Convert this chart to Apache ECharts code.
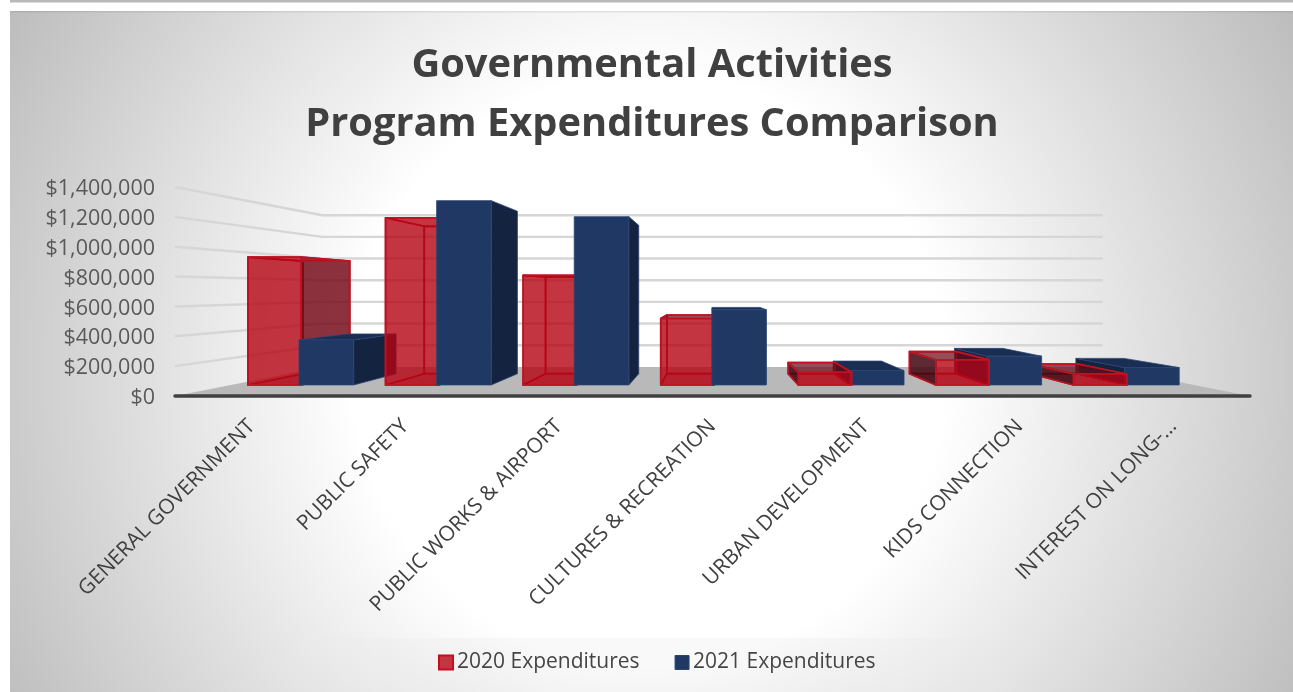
<!DOCTYPE html>
<html>
<head>
<meta charset="utf-8">
<style>
  html, body { margin: 0; padding: 0; background: #fff; }
  #chart { width: 1293px; height: 692px; }
</style>
<script src="https://cdn.jsdelivr.net/npm/echarts@6/dist/echarts.min.js"></script>
</head>
<body>
<div id="chart"></div>
<script>
const categories = ['GENERAL GOVERNMENT', 'PUBLIC SAFETY', 'PUBLIC WORKS & AIRPORT', 'CULTURES & RECREATION', 'URBAN DEVELOPMENT', 'KIDS CONNECTION', 'INTEREST ON LONG-…'];
const expenditures2020 = [955000, 1250000, 820000, 497000, 95000, 187000, 82000];
const expenditures2021 = [337000, 1378000, 1258000, 562000, 107000, 215000, 130000];
const tickValues = [0, 200000, 400000, 600000, 800000, 1000000, 1200000, 1400000];

// Perspective of the 3D box: every point is pulled towards one vanishing point.
const VANISH_CATEGORY = 3;
const VANISH_VALUE = 711000;
const DEPTH_WALL = 0.726;
const DEPTH_BAR_FRONT = 0.896;
const DEPTH_BAR_REAR = 0.79;

function project(api, category, bandOffset, value, depth) {
  const band = api.size([1, 0])[0];
  const p = api.coord([category, value]);
  const v = api.coord([VANISH_CATEGORY, VANISH_VALUE]);
  return [
    v[0] + (p[0] + bandOffset * band - v[0]) * depth,
    v[1] + (p[1] - v[1]) * depth
  ];
}

function face(points, style, z2) {
  return { type: 'polygon', shape: { points }, style, z2, silent: true };
}

const redLook = {
  edge: { stroke: '#bc1424', lineWidth: 1.7, lineJoin: 'round' },
  front: 'rgba(181,2,19,0.8)',
  right: 'rgba(115,5,20,0.82)',
  left: 'rgba(65,5,15,0.85)',
  top: 'rgba(105,10,22,0.72)',
  bottom: 'rgba(170,0,15,0.16)'
};
const blueLook = {
  edge: { stroke: '#2b4573', lineWidth: 0.8, lineJoin: 'round' },
  front: '#1f3864',
  right: '#142340',
  left: '#142340',
  top: '#1a2d52',
  bottom: null
};

function boxRenderer(look, from, to, isRed) {
  return function (params, api) {
    const cat = api.value(0);
    const val = api.value(1);
    const c = (off, v, d) => project(api, cat, off, v, d);
    const fl = c(from, 0, DEPTH_BAR_FRONT), fr = c(to, 0, DEPTH_BAR_FRONT);
    const rl = c(from, 0, DEPTH_BAR_REAR), rr = c(to, 0, DEPTH_BAR_REAR);
    const tfl = c(from, val, DEPTH_BAR_FRONT), tfr = c(to, val, DEPTH_BAR_FRONT);
    const trl = c(from, val, DEPTH_BAR_REAR), trr = c(to, val, DEPTH_BAR_REAR);
    const vx = api.coord([VANISH_CATEGORY, 0])[0];
    const rightShows = fr[0] < vx;
    const leftShows = fl[0] > vx;
    const topShows = val < VANISH_VALUE;

    // Outer categories are painted first so the nearer-centre boxes overlap them.
    const rank = 3 - Math.abs(cat - 3);
    const within = cat <= 3 ? (isRed ? 0 : 1) : (isRed ? 1 : 0);
    const z = 100 + rank * 100 + within * 10;
    const s = (fill) => Object.assign({ fill: fill || 'none' }, look.edge);
    const kids = [];

    if (isRed) {
      kids.push(face([rl, rr, trr, trl], s(null), z));
      kids.push(face([fl, fr, rr, rl], s(look.bottom), z + 1));
    }
    if (isRed || leftShows) {
      kids.push(face([fl, rl, trl, tfl], s(leftShows ? look.left : null), z + 2));
    }
    if (isRed || rightShows) {
      kids.push(face([fr, rr, trr, tfr], s(rightShows ? look.right : null), z + 3));
    }
    if (isRed || topShows) {
      kids.push(face([tfl, tfr, trr, trl], s(topShows ? look.top : null), z + 4));
    }
    kids.push(face([fl, fr, tfr, tfl], s(look.front), z + 5));
    return { type: 'group', children: kids };
  };
}

function renderWalls(params, api) {
  const val = api.value(1);
  const leftFront = project(api, 0, -0.5, val, 1);
  const leftBack = project(api, 0, -0.5, val, DEPTH_WALL);
  const rightFront = project(api, 6, 0.5, val, 1);
  const rightBack = project(api, 6, 0.5, val, DEPTH_WALL);
  if (val === 0) {
    return face([leftFront, leftBack, rightBack, rightFront], { fill: '#b9b9b9' }, 1);
  }
  return {
    type: 'polyline',
    shape: { points: [leftFront, leftBack, rightBack] },
    style: { fill: 'none', stroke: '#d6d6d6', lineWidth: 2.4 },
    z2: 2,
    silent: true
  };
}

const pairs = (values) => values.map((v, i) => [categories[i], v]);
const money = (v) => '{v|$' + v.toLocaleString('en-US') + '}';
const FONT = '"Open Sans", sans-serif';

const chart = echarts.init(document.getElementById('chart'), null, { renderer: 'canvas' });
chart.setOption({
  animation: false,
  graphic: [
    { type: 'rect', silent: true, z: -10, shape: { x: 10, y: 0, width: 1283, height: 2.5 }, style: { fill: '#b9b9b9' } },
    {
      type: 'rect', silent: true, z: -10,
      shape: { x: 10, y: 11, width: 1283, height: 681 },
      style: {
        fill: {
          type: 'radial', global: true, x: 650, y: 370, r: 740,
          colorStops: [
            { offset: 0, color: '#ffffff' },
            { offset: 0.4, color: '#ffffff' },
            { offset: 1, color: '#bcbcbc' }
          ]
        }
      }
    },
    { type: 'rect', silent: true, z: -9, shape: { x: 10, y: 11, width: 1283, height: 1.5 }, style: { fill: 'rgba(0,0,0,0.08)' } },
    {
      // faint backing strip behind the legend
      type: 'rect', silent: true, z: -9,
      shape: { x: 300, y: 638, width: 700, height: 54 },
      style: {
        fill: {
          type: 'linear', x: 0, y: 0, x2: 1, y2: 0,
          colorStops: [
            { offset: 0, color: 'rgba(0,0,0,0)' },
            { offset: 0.25, color: 'rgba(0,0,0,0.025)' },
            { offset: 0.75, color: 'rgba(0,0,0,0.025)' },
            { offset: 1, color: 'rgba(0,0,0,0)' }
          ]
        }
      }
    }
  ],
  title: {
    text: 'Governmental Activities\nProgram Expenditures Comparison',
    left: 647,
    top: 31,
    textAlign: 'center',
    textStyle: { fontFamily: FONT, fontWeight: 700, fontSize: 39.8, lineHeight: 59, color: '#404040' }
  },
  legend: {
    left: 433,
    top: 647,
    itemWidth: 14,
    itemHeight: 14,
    itemGap: 35,
    icon: 'rect',
    selectedMode: false,
    textStyle: { fontFamily: FONT, fontSize: 21, color: '#454545', padding: [0, 0, 0, -1] },
    data: [
      { name: '2020 Expenditures', itemStyle: { color: '#c43542', borderColor: '#c20e20', borderWidth: 2 } },
      { name: '2021 Expenditures', itemStyle: { color: '#1f3864', borderColor: '#2b4573', borderWidth: 1 } }
    ]
  },
  grid: { left: 175, right: 43, top: 187, bottom: 296 },
  xAxis: {
    type: 'category',
    data: categories,
    z: 6,
    axisTick: { show: false },
    axisLine: { lineStyle: { color: '#404040', width: 3.5 } },
    axisLabel: {
      rotate: 45,
      interval: 0,
      margin: 27,
      fontFamily: FONT,
      fontSize: 21,
      color: '#404040'
    }
  },
  yAxis: {
    type: 'value',
    min: 0,
    max: 1400000,
    interval: 200000,
    axisLine: { show: false },
    axisTick: { show: false },
    splitLine: { show: false },
    axisLabel: {
      margin: 20,
      formatter: money,
      rich: { v: { fontFamily: FONT, fontSize: 21.5, color: '#595959', padding: [4, 0, 0, 0] } }
    }
  },
  series: [
    {
      name: 'Walls', type: 'custom', z: 1, silent: true,
      renderItem: renderWalls,
      encode: { x: 0, y: 1 },
      data: tickValues.map((v) => [categories[0], v])
    },
    {
      name: '2020 Expenditures', type: 'custom', z: 2,
      itemStyle: { color: '#c43542' },
      renderItem: boxRenderer(redLook, -0.376, 0.01, true),
      encode: { x: 0, y: 1 },
      data: pairs(expenditures2020)
    },
    {
      name: '2021 Expenditures', type: 'custom', z: 2,
      itemStyle: { color: '#1f3864' },
      renderItem: boxRenderer(blueLook, -0.005, 0.392, false),
      encode: { x: 0, y: 1 },
      data: pairs(expenditures2021)
    }
  ]
});
</script>
</body>
</html>
